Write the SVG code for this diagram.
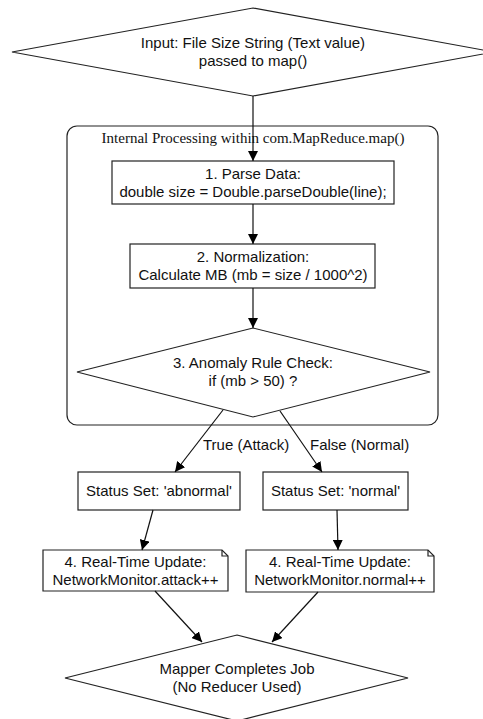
<svg xmlns="http://www.w3.org/2000/svg" width="483" height="719" viewBox="0 0 483 719">
  <defs>
    <marker id="arrow" viewBox="0 0 10 10" refX="10" refY="5" markerWidth="10" markerHeight="10" markerUnits="userSpaceOnUse" orient="auto">
      <path d="M0,0 L10,5 L0,10 z" fill="#000"/>
    </marker>
    <style>
      .shape { fill: #fff; stroke: #222; stroke-width: 1.2; }
      .frame { fill: none; stroke: #222; stroke-width: 1.2; }
      .edge { fill: none; stroke: #111; stroke-width: 1.2; marker-end: url(#arrow); }
      .t { font-family: "Liberation Sans", Arial, sans-serif; font-size: 15px; fill: #111; text-anchor: middle; }
      .lbl { font-family: "Liberation Sans", Arial, sans-serif; font-size: 15px; fill: #111; }
      .title { font-family: "Liberation Serif", "Times New Roman", serif; font-size: 15px; fill: #111; text-anchor: middle; }
    </style>
  </defs>
  <rect width="483" height="719" fill="#fff"/>

  <!-- map() container -->
  <g id="cluster_map">
    <rect class="frame" x="67" y="126" width="371" height="299" rx="10"/>
    <text class="title" x="253" y="143">Internal Processing within com.MapReduce.map()</text>
  </g>

  <g id="input">
    <polygon class="shape" points="253,8 494,52 253,96 12,52"/>
    <text class="t" x="253" y="48">Input: File Size String (Text value)</text>
    <text class="t" x="253" y="66">passed to map()</text>
  </g>

  <g id="parse">
    <rect class="shape" x="112" y="161" width="282" height="43"/>
    <text class="t" x="253" y="179">1. Parse Data:</text>
    <text class="t" x="253" y="197">double size = Double.parseDouble(line);</text>
  </g>

  <g id="normalize">
    <rect class="shape" x="130" y="244" width="245" height="44"/>
    <text class="t" x="253" y="262">2. Normalization:</text>
    <text class="t" x="253" y="280">Calculate MB (mb = size / 1000^2)</text>
  </g>

  <g id="check">
    <polygon class="shape" points="253,328 430,372 253,417 77,372"/>
    <text class="t" x="253" y="368">3. Anomaly Rule Check:</text>
    <text class="t" x="253" y="386">if (mb &gt; 50) ?</text>
  </g>

  <g id="status_abnormal">
    <rect class="shape" x="78" y="472" width="162" height="38"/>
    <text class="t" x="159" y="496">Status Set: 'abnormal'</text>
  </g>

  <g id="status_normal">
    <rect class="shape" x="263" y="472" width="145" height="38"/>
    <text class="t" x="335.5" y="496">Status Set: 'normal'</text>
  </g>

  <g id="update_attack">
    <path class="shape" d="M43,550 H222 L228,556 V591 H43 Z"/>
    <path class="frame" d="M222,550 V556 H228"/>
    <text class="t" x="135.5" y="567">4. Real-Time Update:</text>
    <text class="t" x="135.5" y="585">NetworkMonitor.attack++</text>
  </g>

  <g id="update_normal">
    <path class="shape" d="M246,550 H428 L434,556 V592 H246 Z"/>
    <path class="frame" d="M428,550 V556 H434"/>
    <text class="t" x="340" y="567">4. Real-Time Update:</text>
    <text class="t" x="340" y="585">NetworkMonitor.normal++</text>
  </g>

  <g id="complete">
    <polygon class="shape" points="237,635 408,678 237,721 65,678"/>
    <text class="t" x="237" y="674">Mapper Completes Job</text>
    <text class="t" x="237" y="692">(No Reducer Used)</text>
  </g>

  <!-- connectors -->
  <g id="edges">
    <path class="edge" d="M253,96 V161"/>
    <path class="edge" d="M253,204 V244"/>
    <path class="edge" d="M253,288 V328"/>
    <path class="edge" d="M223,410 L175,472"/>
    <path class="edge" d="M280,411 L322,472"/>
    <path class="edge" d="M153,510 L142,550"/>
    <path class="edge" d="M337,510 L338,550"/>
    <path class="edge" d="M155,591 L202,642"/>
    <path class="edge" d="M318,592 L272,642"/>
    <text class="lbl" x="203" y="450">True (Attack)</text>
    <text class="lbl" x="310" y="450">False (Normal)</text>
  </g>
</svg>
